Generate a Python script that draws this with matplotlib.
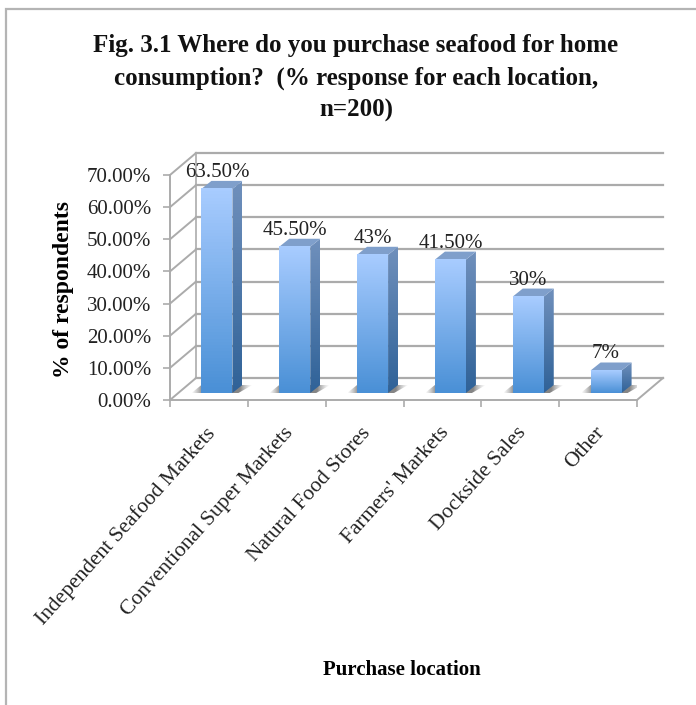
import numpy as np
import matplotlib
matplotlib.use('Agg')
import matplotlib.pyplot as plt
from matplotlib.colors import LinearSegmentedColormap
from matplotlib.patches import Polygon, Rectangle

categories = ['Independent Seafood Markets', 'Conventional Super Markets', 'Natural Food Stores',
              "Farmers' Markets", 'Dockside Sales', 'Other']
values = [63.5, 45.5, 43, 41.5, 30, 7]
value_labels = ['63.50%', '45.50%', '43%', '41.50%', '30%', '7%']
y_ticks = [0, 10, 20, 30, 40, 50, 60, 70]
title = 'Fig. 3.1 Where do you purchase seafood for home\nconsumption?  (% response for each location,\nn=200)'

W, H = 696, 705
plt.rcParams['font.family'] = ['Liberation Serif', 'DejaVu Serif']

fig = plt.figure(figsize=(W / 100, H / 100), dpi=100)

# axes box is the front plane of the 3d chart
left, right, top, bottom = 170, 637, 175, 400
ax = fig.add_axes([left / W, 1 - bottom / H, (right - left) / W, (bottom - top) / H])
ax.set_xlim(0, 6)
ax.set_ylim(0, 70)

px_x = 6 / (right - left)
px_y = 70 / (bottom - top)
depth_x, depth_y = 26 * px_x, 22 * px_y
grid_col = '#ababab'

# back wall, floor and left wall lines
for v in y_ticks:
    ax.plot([depth_x, 6 + depth_x], [v + depth_y, v + depth_y], color=grid_col, lw=1.6, clip_on=False, zorder=1)
    ax.plot([0, depth_x], [v, v + depth_y], color=grid_col, lw=1.4, clip_on=False, zorder=1)
ax.plot([depth_x, depth_x], [depth_y, 70 + depth_y], color=grid_col, lw=1.2, clip_on=False, zorder=1)
ax.plot([6, 6 + depth_x], [0, depth_y], color=grid_col, lw=1.4, clip_on=False, zorder=1)

front_cmap = LinearSegmentedColormap.from_list('front', ['#4a90d6', '#a8ccff'])
side_cmap = LinearSegmentedColormap.from_list('side', ['#2f6298', '#7090bc'])
shadow_cmap = LinearSegmentedColormap.from_list('shadow', [(0.0, (0.6, 0.6, 0.6, 0.0)), (0.18, (0.5, 0.5, 0.5, 0.95)),
                                                           (0.8, (0.5, 0.5, 0.5, 0.95)), (1.0, (0.75, 0.75, 0.75, 0.0))])
grad = np.linspace(1, 0, 64).reshape(-1, 1)
grad_h = np.linspace(0, 1, 64).reshape(1, -1)

bar_w = 31 * px_x
off_x = 8 * px_x
off_y = 7 * px_y
side_x, side_y = 10 * px_x, 8 * px_y

for i, v in enumerate(values):
    x0 = i + 0.5 + off_x - bar_w / 2
    x1 = x0 + bar_w
    y0 = off_y
    y1 = off_y + v

    # soft shadow on the floor
    sh_l = x0 - 10 * px_x
    sh_r = x1 + side_x + 10 * px_x
    shadow = Polygon([(sh_l, y0), (x1 + 6 * px_x, y0), (sh_r, y0 + side_y), (x0, y0 + side_y)],
                     transform=ax.transData, fc='none', ec='none')
    ax.add_patch(shadow)
    im = ax.imshow(grad_h, extent=(sh_l, sh_r, y0, y0 + side_y), cmap=shadow_cmap, aspect='auto', zorder=2)
    im.set_clip_path(shadow)

    im = ax.imshow(grad, extent=(x0, x1, y0, y1), cmap=front_cmap, aspect='auto', zorder=4)
    side = Polygon([(x1, y0), (x1 + side_x, y0 + side_y), (x1 + side_x, y1 + side_y), (x1, y1)],
                   transform=ax.transData, fc='none', ec='none')
    ax.add_patch(side)
    im = ax.imshow(grad, extent=(x1, x1 + side_x, y0, y1 + side_y), cmap=side_cmap, aspect='auto', zorder=3)
    im.set_clip_path(side)
    ax.add_patch(Polygon([(x0, y1), (x1, y1), (x1 + side_x, y1 + side_y), (x0 + side_x, y1 + side_y)],
                         fc='#7f9fcb', ec='none', zorder=3))
    ax.text((x0 + x1) / 2, y1 + side_y - 0.3, value_labels[i], ha='center', va='bottom',
            fontsize=15, color='#222222', zorder=6)

ax.set_xlim(0, 6)
ax.set_ylim(0, 70)
ax.patch.set_alpha(0)

for s in ['top', 'right']:
    ax.spines[s].set_visible(False)
for s in ['left', 'bottom']:
    ax.spines[s].set_color(grid_col)
    ax.spines[s].set_linewidth(1.4)

ax.set_yticks(y_ticks)
ax.set_yticklabels(['%.2f%%' % v for v in y_ticks], fontsize=15, color='#222222', va='center_baseline')
ax.tick_params(axis='y', pad=8.5)

ax.set_xticks(range(7))
ax.set_xticklabels([])
ax.tick_params(axis='both', color=grid_col, width=1.2, length=5)
ax.set_xticks(np.arange(6) + 0.45, minor=True)
ax.set_xticklabels(categories, minor=True, rotation=48, ha='right', rotation_mode='anchor', fontsize=15.5, color='#222222')
ax.tick_params(axis='x', which='minor', length=0, pad=17)

fig.text(402 / W, 1 - 670 / H, 'Purchase location', ha='center', va='center', fontsize=15, fontweight='bold')
fig.text(63 / W, 1 - 289 / H, '% of respondents', ha='center', va='center', rotation=90, fontsize=17, fontweight='bold')
fig.text(356 / W, 1 - 78 / H, title, ha='center', va='center', fontsize=18, fontweight='bold',
         linespacing=1.52, color='#111111')

# chart frame
fig.add_artist(Rectangle((6 / W, -0.01), 1.1, 1 - 9 / H + 0.01, transform=fig.transFigure, fc='none', ec='#b4b4b4', lw=1.6))

fig.savefig('out.png', dpi=100)
